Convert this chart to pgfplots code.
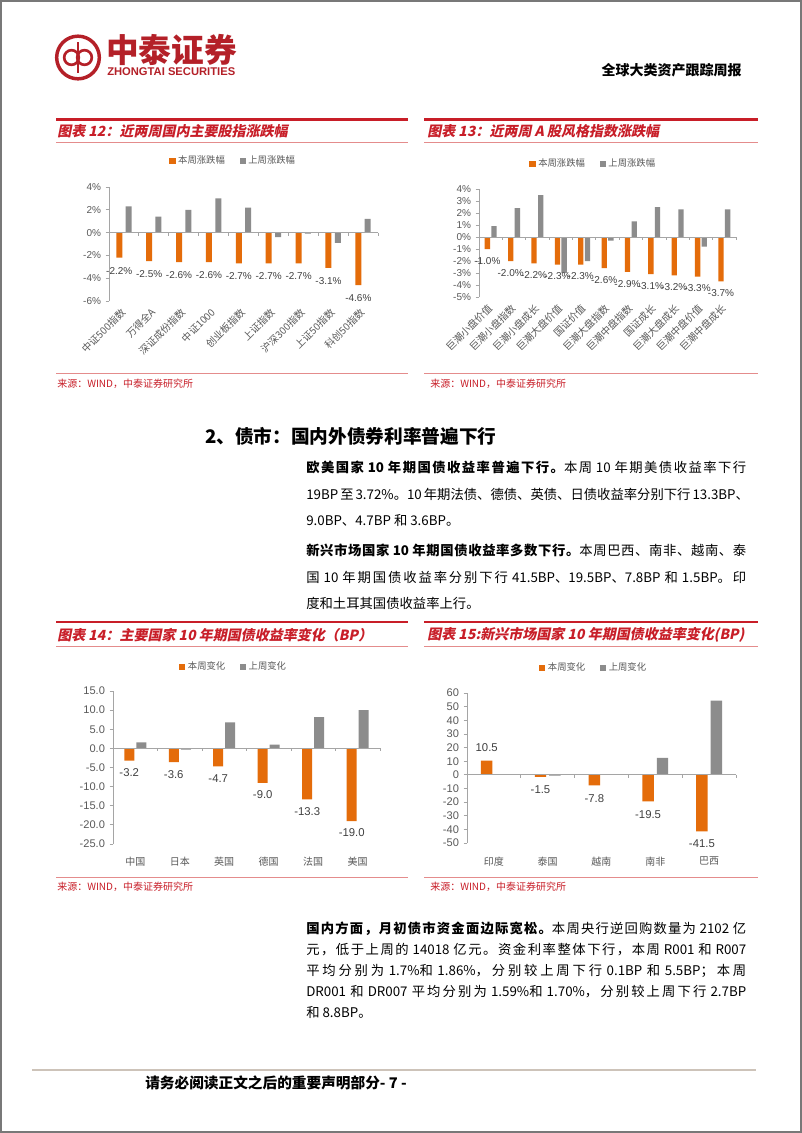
\documentclass[border=0pt]{standalone}
\usepackage{fontspec}
\usepackage{pgfplots}
\pgfplotsset{compat=1.18}
\setmainfont{Liberation Sans}
\newfontfamily\cjk{Noto Sans CJK SC}
\newfontfamily\cjksl{Noto Sans CJK SC}[FakeSlant=0.2]

% stretchable glue between CJK characters (for justified single lines)
\XeTeXinterchartokenstate=1
\newXeTeXintercharclass\cjkcls
\newcount\cc
\cc="3000 \loop\XeTeXcharclass\cc=\cjkcls\ifnum\cc<"303F \advance\cc by 1 \repeat
\cc="4E00 \loop\XeTeXcharclass\cc=\cjkcls\ifnum\cc<"9FFF \advance\cc by 1 \repeat
\cc="FF00 \loop\XeTeXcharclass\cc=\cjkcls\ifnum\cc<"FFEF \advance\cc by 1 \repeat
\XeTeXinterchartoks\cjkcls\cjkcls={\hskip0pt plus 2pt\relax}

\definecolor{zorange}{RGB}{228,108,10}
\definecolor{zgray}{RGB}{140,140,140}
\definecolor{zred}{RGB}{200,30,40}
\definecolor{zpink}{RGB}{228,140,140}
\definecolor{ztxt}{RGB}{64,64,64}
\definecolor{ztick}{RGB}{89,89,89}
\definecolor{zaxis}{RGB}{165,165,165}
\definecolor{zlogo}{RGB}{180,32,40}
\definecolor{zframe}{RGB}{120,120,120}
\definecolor{zfoot}{RGB}{205,195,185}

\pgfplotsset{
  zbase/.style={
    scale only axis, clip=false, ybar,
    axis lines=left, axis line style={-},
    x axis line style={draw=none},
    y axis line style={draw=zaxis, line width=0.6pt},
    xtick style={draw=none},
    ytick style={draw=zaxis, line width=0.6pt},
    tick align=outside, major tick length=2.5pt,
    tick label style={text=ztick},
    yticklabel style={font=\fontsize{7.5}{8}\selectfont},
    /pgf/number format/assume math mode=true,
    enlargelimits=false,
    legend style={draw=none, fill=none, legend columns=2,
      font=\cjk\fontsize{7}{8}\selectfont, text=ztick, inner sep=0pt,
      /tikz/every even column/.append style={column sep=9pt}},
    legend image code/.code={\fill[##1] (0pt,-2.3pt) rectangle (4.6pt,2.3pt);},
    every node near coord/.append style={font=\fontsize{7.5}{8}\selectfont, text=ztxt},
  }
}

\begin{document}
\begin{tikzpicture}
\fill[white] (0pt,0pt) rectangle (601.5pt,-849.75pt);
\begin{scope}[x=0.75pt,y=-0.75pt]
\draw[zframe, line width=0.8pt] (1,1) rectangle (801,1132);
% logo
\draw[zlogo, line width=2.6pt] (78,57.5) circle[radius=16pt];
\draw[zlogo, line width=2pt] (78,42) -- (78,73);
\draw[zlogo, line width=2pt] (71.5,57.5) circle[radius=5.5pt];
\draw[zlogo, line width=2pt] (84.5,57.5) circle[radius=5.5pt];
\node[anchor=west, inner sep=0, text=zlogo, font=\cjk\bfseries\fontsize{24.5}{25}\selectfont] at (106,50) {中泰证券};
\node[anchor=west, inner sep=0, text=zlogo, font=\bfseries\fontsize{8.4}{9}\selectfont] at (107,71.5) {ZHONGTAI SECURITIES};
\node[anchor=east, inner sep=0, font=\cjk\bfseries\fontsize{10.5}{11}\selectfont] at (742,70) {全球大类资产跟踪周报};
% chart frames
\foreach \a/\b in {56/408, 424/758} {
  \draw[zred, line width=1.6pt] (\a,119.5) -- (\b,119.5);
  \draw[zpink, line width=0.6pt] (\a,142) -- (\b,142);
  \draw[zpink, line width=0.6pt] (\a,373) -- (\b,373);
  \draw[zred, line width=1.6pt] (\a,622) -- (\b,622);
  \draw[zpink, line width=0.6pt] (\a,646) -- (\b,646);
  \draw[zpink, line width=0.6pt] (\a,877) -- (\b,877);
}
\tikzset{ttl/.style={anchor=west, inner sep=0, text=zred, font=\cjksl\bfseries\fontsize{10.5}{11}\selectfont},
  src/.style={anchor=west, inner sep=0, text=zred, font=\cjk\fontsize{7.5}{8}\selectfont},
  body/.style={anchor=west, inner sep=0, font=\cjk\fontsize{10}{12}\selectfont}}
\node[ttl] at (57,131) {图表 12：近两周国内主要股指涨跌幅};
\node[ttl] at (427,131) {图表 13：近两周 A 股风格指数涨跌幅};
\node[ttl] at (57,635) {图表 14：主要国家 10 年期国债收益率变化（BP）};
\node[ttl] at (427,635) {图表 15:新兴市场国家 10 年期国债收益率变化(BP)};
\node[src] at (57,383.5) {来源：WIND，中泰证券研究所};
\node[src] at (430,383.5) {来源：WIND，中泰证券研究所};
\node[src] at (57,887) {来源：WIND，中泰证券研究所};
\node[src] at (430,887) {来源：WIND，中泰证券研究所};
% section
\node[anchor=west, inner sep=0, font=\cjk\bfseries\fontsize{14}{15}\selectfont] at (205,436) {2、债市：国内外债券利率普遍下行};
\node[body] at (306,467) {\makebox[330pt][s]{\bfseries 欧美国家 10 年期国债收益率普遍下行。\mdseries 本周 10 年期美债收益率下行}};
\node[body] at (306,494) {\makebox[330pt][s]{19BP 至 3.72\%。10 年期法债、德债、英债、日债收益率分别下行 13.3BP、}};
\node[body] at (306,520) {9.0BP、4.7BP 和 3.6BP。};
\node[body] at (306,550) {\makebox[330pt][s]{\bfseries 新兴市场国家 10 年期国债收益率多数下行。\mdseries 本周巴西、南非、越南、泰}};
\node[body] at (306,577) {\makebox[330pt][s]{国 10 年期国债收益率分别下行 41.5BP、19.5BP、7.8BP 和 1.5BP。印}};
\node[body] at (306,603) {度和土耳其国债收益率上行。};
\node[body] at (306,929) {\makebox[330pt][s]{\bfseries 国内方面，月初债市资金面边际宽松。\mdseries 本周央行逆回购数量为 2102 亿}};
\node[body] at (306,950) {\makebox[330pt][s]{元，低于上周的 14018 亿元。资金利率整体下行，本周 R001 和 R007}};
\node[body] at (306,971) {\makebox[330pt][s]{平均分别为 1.7\%和 1.86\%，分别较上周下行 0.1BP 和 5.5BP；本周}};
\node[body] at (306,991.5) {\makebox[330pt][s]{DR001 和 DR007 平均分别为 1.59\%和 1.70\%，分别较上周下行 2.7BP}};
\node[body] at (306,1012) {和 8.8BP。};
% footer
\draw[zfoot, line width=0.8pt] (32,1070) -- (756,1070);
\node[anchor=west, inner sep=0, font=\cjk\bfseries\fontsize{11}{12}\selectfont] at (145,1083) {请务必阅读正文之后的重要声明部分- 7 -};
\end{scope}

% ---------- Chart 12 ----------
\begin{axis}[zbase,
  at={(81.75pt,-225.75pt)}, anchor=south west,
  width=201.75pt, height=85.5pt,
  xmin=-0.5, xmax=8.5, ymin=-6, ymax=4,
  ytick={-6,-4,...,4},
  yticklabel={\pgfmathprintnumber{\tick}\%},
  xtick={0,...,8},
  xticklabels={中证500指数,万得全A,深证成份指数,中证1000,创业板指数,上证指数,沪深300指数,上证50指数,科创50指数},
  xticklabel style={rotate=45, anchor=east, font=\cjk\fontsize{7.5}{8}\selectfont, yshift=-3pt},
  bar width=4.5pt,
  every node near coord/.append style={inner ysep=7pt},
  legend style={at={(0.463,1.228)}, anchor=center},
]
\addplot[fill=zorange, draw=none, bar shift=-3.5pt,
  nodes near coords={\pgfmathprintnumber[fixed,fixed zerofill,precision=1]{\pgfplotspointmeta}\%}]
  coordinates {(0,-2.2)(1,-2.5)(2,-2.6)(3,-2.6)(4,-2.7)(5,-2.7)(6,-2.7)(7,-3.1)(8,-4.6)};
\addplot[fill=zgray, draw=none, bar shift=3.5pt]
  coordinates {(0,2.3)(1,1.4)(2,2.0)(3,3.0)(4,2.2)(5,-0.4)(6,-0.1)(7,-0.9)(8,1.2)};
\legend{本周涨跌幅,上周涨跌幅}
\draw[zaxis, line width=0.6pt] (axis cs:-0.5,0) -- (axis cs:8.5,0);
\pgfplotsinvokeforeach{-0.5,0.5,...,8.5}{\draw[zaxis, line width=0.6pt] (axis cs:#1,0) -- ++(0pt,-2.2pt);}
\end{axis}

% ---------- Chart 13 ----------
\begin{axis}[zbase,
  at={(359.25pt,-222.75pt)}, anchor=south west,
  width=192.75pt, height=81pt,
  xmin=-0.5, xmax=10.5, ymin=-5, ymax=4,
  ytick={-5,...,4},
  yticklabel={\pgfmathprintnumber{\tick}\%},
  xtick={0,...,10},
  xticklabels={巨潮小盘价值,巨潮小盘指数,巨潮小盘成长,巨潮大盘价值,国证价值,巨潮大盘指数,巨潮中盘指数,国证成长,巨潮大盘成长,巨潮中盘价值,巨潮中盘成长},
  xticklabel style={rotate=45, anchor=east, font=\cjk\fontsize{7.5}{8}\selectfont, yshift=-3pt},
  bar width=4pt,
  every node near coord/.append style={inner ysep=6pt},
  legend style={at={(0.446,1.231)}, anchor=center},
]
\addplot[fill=zorange, draw=none, bar shift=-2.5pt,
  nodes near coords={\pgfmathprintnumber[fixed,fixed zerofill,precision=1]{\pgfplotspointmeta}\%}]
  coordinates {(0,-1.0)(1,-2.0)(2,-2.2)(3,-2.3)(4,-2.3)(5,-2.6)(6,-2.9)(7,-3.1)(8,-3.2)(9,-3.3)(10,-3.7)};
\addplot[fill=zgray, draw=none, bar shift=2.5pt]
  coordinates {(0,0.9)(1,2.4)(2,3.5)(3,-3.0)(4,-2.0)(5,-0.3)(6,1.3)(7,2.5)(8,2.3)(9,-0.8)(10,2.3)};
\legend{本周涨跌幅,上周涨跌幅}
\draw[zaxis, line width=0.6pt] (axis cs:-0.5,0) -- (axis cs:10.5,0);
\pgfplotsinvokeforeach{-0.5,0.5,...,10.5}{\draw[zaxis, line width=0.6pt] (axis cs:#1,0) -- ++(0pt,-2.2pt);}
\end{axis}

% ---------- Chart 14 ----------
\begin{axis}[zbase,
  at={(84.75pt,-633pt)}, anchor=south west,
  width=200.25pt, height=114.75pt,
  xmin=-0.5, xmax=5.5, ymin=-25, ymax=15,
  ytick={-25,-20,...,15},
  yticklabel style={/pgf/number format/fixed, /pgf/number format/fixed zerofill, /pgf/number format/precision=1, font=\fontsize{8.3}{9}\selectfont},
  xtick={0,...,5},
  xticklabels={中国,日本,英国,德国,法国,美国},
  xticklabel style={font=\cjk\fontsize{7.5}{8}\selectfont, yshift=-3.5pt},
  bar width=7.5pt,
  every node near coord/.append style={inner ysep=5.8pt, font=\fontsize{8.5}{9}\selectfont},
  legend style={at={(0.453,1.157)}, anchor=center},
]
\addplot[fill=zorange, draw=none, bar shift=-4.5pt,
  nodes near coords={\pgfmathprintnumber[fixed,fixed zerofill,precision=1]{\pgfplotspointmeta}}]
  coordinates {(0,-3.2)(1,-3.6)(2,-4.7)(3,-9.0)(4,-13.3)(5,-19.0)};
\addplot[fill=zgray, draw=none, bar shift=4.5pt]
  coordinates {(0,1.6)(1,-0.3)(2,6.8)(3,1.0)(4,8.2)(5,10.0)};
\legend{本周变化,上周变化}
\draw[zaxis, line width=0.6pt] (axis cs:-0.5,0) -- (axis cs:5.5,0);
\pgfplotsinvokeforeach{-0.5,0.5,...,5.5}{\draw[zaxis, line width=0.6pt] (axis cs:#1,0) -- ++(0pt,-2.2pt);}
\end{axis}

% ---------- Chart 15 ----------
\begin{axis}[zbase,
  at={(350.25pt,-632.25pt)}, anchor=south west,
  width=201.75pt, height=112.5pt,
  xmin=-0.5, xmax=4.5, ymin=-50, ymax=60,
  ytick={-50,-40,...,60},
  yticklabel style={font=\fontsize{8.3}{9}\selectfont},
  xtick={0,...,4},
  xticklabels={印度,泰国,越南,南非,巴西},
  xticklabel style={font=\cjk\fontsize{7.5}{8}\selectfont, yshift=-4.5pt},
  bar width=8.6pt,
  every node near coord/.append style={inner ysep=6.3pt, font=\fontsize{8.5}{9}\selectfont},
  legend style={at={(0.472,1.167)}, anchor=center},
]
\addplot[fill=zorange, draw=none, bar shift=-5.4pt,
  nodes near coords={\pgfmathprintnumber[fixed,fixed zerofill,precision=1]{\pgfplotspointmeta}}]
  coordinates {(0,10.5)(1,-1.5)(2,-7.8)(3,-19.5)(4,-41.5)};
\addplot[fill=zgray, draw=none, bar shift=5.4pt]
  coordinates {(0,0.2)(1,-0.5)(2,0.2)(3,12.5)(4,54.5)};
\legend{本周变化,上周变化}
\draw[zaxis, line width=0.6pt] (axis cs:-0.5,0) -- (axis cs:4.5,0);
\pgfplotsinvokeforeach{-0.5,0.5,...,4.5}{\draw[zaxis, line width=0.6pt] (axis cs:#1,0) -- ++(0pt,-2.2pt);}
\end{axis}
\end{tikzpicture}
\end{document}
